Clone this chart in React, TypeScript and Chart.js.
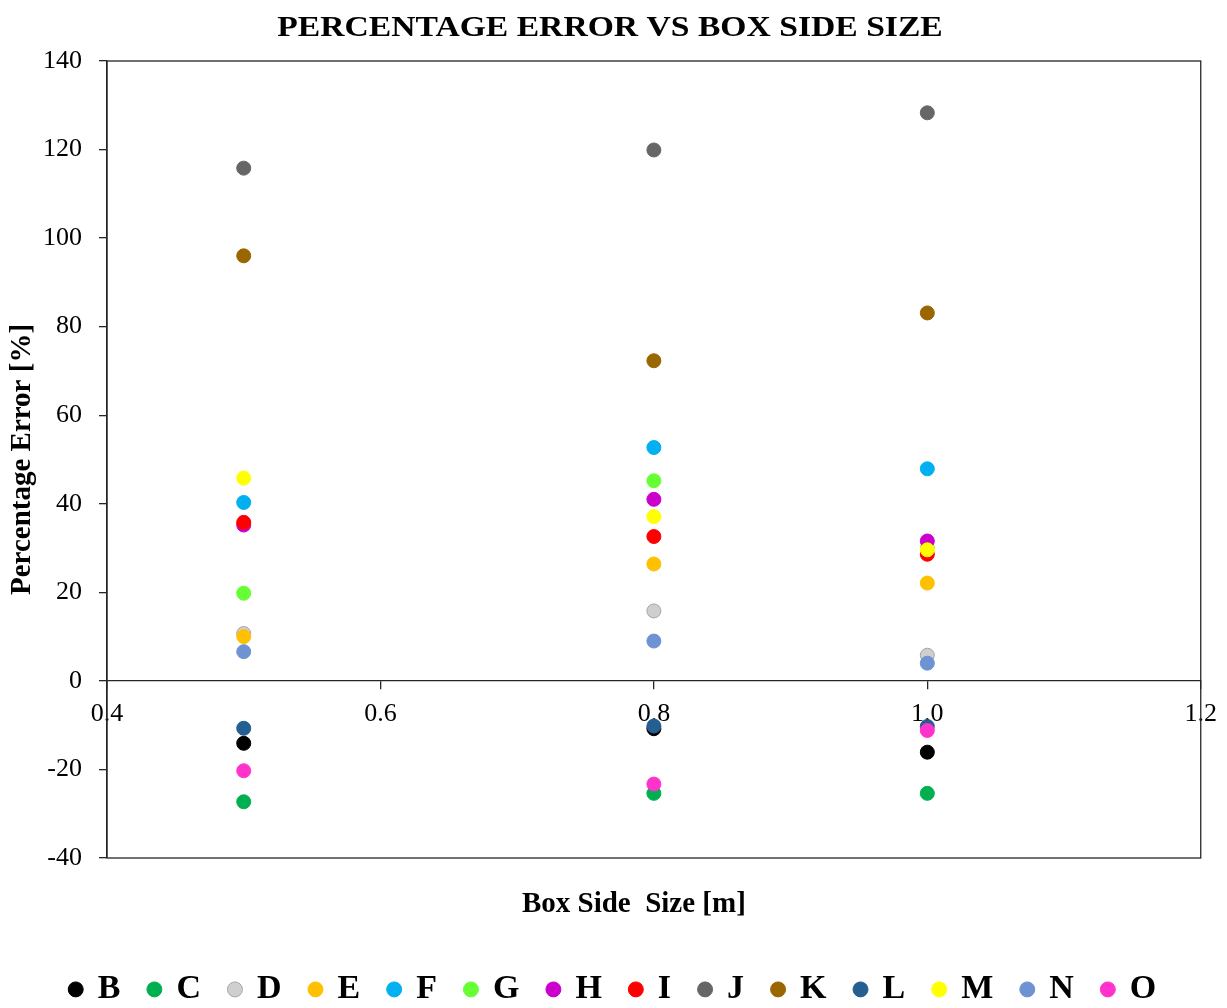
import { useEffect, useRef } from 'react';
import { Chart, registerables } from 'chart.js';

Chart.register(...registerables);

// Box side sizes [m] at which the error was measured
const boxSizes = [0.5, 0.8, 1.0];

// Percentage error [%] per case, one value per box size
const seriesB = [-14.1, -10.8, -16.1];
const seriesC = [-27.3, -25.4, -25.4];
const seriesD = [10.7, 15.8, 5.8];
const seriesE = [10.0, 26.4, 22.1];
const seriesF = [40.3, 52.7, 47.9];
const seriesG = [19.8, 45.2, 30.0];
const seriesH = [35.2, 41.0, 31.6];
const seriesI = [35.8, 32.6, 28.6];
const seriesJ = [115.8, 119.9, 128.3];
const seriesK = [96.0, 72.3, 83.1];
const seriesL = [-10.7, -10.2, -10.3];
const seriesM = [45.8, 37.1, 29.6];
const seriesN = [6.6, 9.0, 4.0];
const seriesO = [-20.3, -23.3, -11.2];

const seriesNames = ['B', 'C', 'D', 'E', 'F', 'G', 'H', 'I', 'J', 'K', 'L', 'M', 'N', 'O'];
const seriesValues = [
  seriesB, seriesC, seriesD, seriesE, seriesF, seriesG, seriesH,
  seriesI, seriesJ, seriesK, seriesL, seriesM, seriesN, seriesO,
];
const seriesFill = [
  '#000000', '#00B050', '#D0CECE', '#FFC000', '#00B0F0', '#66FF33', '#CC00CC',
  '#FF0000', '#666666', '#996600', '#255E91', '#FFFF00', '#6F92D2', '#FF33CC',
];
const seriesStroke = [
  '#000000', '#00B050', '#A5A5A5', '#FFC000', '#00B0F0', '#66FF33', '#CC00CC',
  '#FF0000', '#666666', '#996600', '#255E91', '#FFFF00', '#6F92D2', '#FF33CC',
];

// Axis ranges
const X_MIN = 0.4;
const X_MAX = 1.2;
const X_STEP = 0.2;
const Y_MIN = -40;
const Y_MAX = 140;
const Y_STEP = 20;

const CHART_TITLE = 'PERCENTAGE ERROR VS BOX SIDE SIZE';
const X_TITLE = 'Box Side  Size [m]';
const Y_TITLE = 'Percentage Error [%]';

const SERIF = '"Liberation Serif", "Times New Roman", serif';
const AXIS_COLOR = '#262626';

// Frame around the plotting area
const framePlugin = {
  id: 'plotFrame',
  beforeDatasetsDraw(chart: any) {
    const { ctx, chartArea } = chart;
    ctx.save();
    ctx.strokeStyle = AXIS_COLOR;
    ctx.lineWidth = 1.3;
    ctx.strokeRect(chartArea.left, chartArea.top, chartArea.right - chartArea.left, chartArea.bottom - chartArea.top);
    ctx.restore();
  },
};

// Main title (horizontally stretched) and the x-axis caption
const captionPlugin = {
  id: 'captions',
  afterDraw(chart: any) {
    const { ctx, chartArea } = chart;
    ctx.save();
    ctx.fillStyle = '#000';
    ctx.textAlign = 'center';
    ctx.textBaseline = 'middle';
    ctx.font = `bold 29.5px ${SERIF}`;
    ctx.translate(chart.width / 2 - 3.5, 28);
    ctx.scale(1.14, 1);
    ctx.fillText(CHART_TITLE, 0, 0);
    ctx.restore();

    ctx.save();
    ctx.fillStyle = '#000';
    ctx.textAlign = 'center';
    ctx.textBaseline = 'middle';
    ctx.font = `bold 29px ${SERIF}`;
    ctx.fillText(X_TITLE, (chartArea.left + chartArea.right) / 2 - 20, chartArea.bottom + 47);
    ctx.restore();
  },
};

export default function App() {
  const canvasRef = useRef<HTMLCanvasElement | null>(null);

  useEffect(() => {
    const canvas = canvasRef.current;
    if (!canvas) return;

    Chart.defaults.font.family = SERIF;
    Chart.defaults.color = '#000';

    const count = seriesNames.length;
    const datasets = seriesNames.map((name, i) => ({
      label: name,
      data: boxSizes.map((x, j) => ({ x, y: seriesValues[i][j] })),
      backgroundColor: seriesFill[i],
      borderColor: seriesStroke[i],
      borderWidth: 1,
      pointRadius: 7,
      pointHoverRadius: 7,
      pointStyle: 'circle',
      showLine: false,
      xAxisID: 'x',
      yAxisID: 'y',
      // later cases are painted above earlier ones
      order: count - i,
    }));

    const chart = new Chart(canvas, {
      type: 'scatter',
      data: { datasets },
      options: {
        responsive: false,
        animation: false,
        events: [],
        layout: { padding: { top: 61, left: 0, right: 0, bottom: -8.4 } },
        scales: {
          x: {
            type: 'linear',
            position: { y: 0 } as any,
            min: X_MIN,
            max: X_MAX,
            ticks: {
              stepSize: X_STEP,
              padding: 10,
              font: { size: 26 },
              color: '#000',
              callback: (v: any) => Number(v).toFixed(1),
            },
            grid: { drawOnChartArea: false, drawTicks: true, tickLength: 8, color: AXIS_COLOR, lineWidth: 1.3 },
            border: { display: true, color: AXIS_COLOR, width: 1.3 },
          },
          y: {
            type: 'linear',
            position: 'left',
            min: Y_MIN,
            max: Y_MAX,
            ticks: {
              stepSize: Y_STEP,
              padding: 17,
              font: { size: 26 },
              color: '#000',
            },
            grid: { drawOnChartArea: false, drawTicks: true, tickLength: 8, color: AXIS_COLOR, lineWidth: 1.3 },
            border: { display: true, color: AXIS_COLOR, width: 1.3 },
            title: {
              display: true,
              text: Y_TITLE,
              font: { size: 29, weight: 'bold' },
              color: '#000',
              padding: { top: 5.6, bottom: 0 },
            },
            afterFit: (scale: any) => { scale.width = 107; },
          },
          // spacer on the right of the plot
          yRight: {
            type: 'linear',
            position: 'right',
            display: true,
            ticks: { display: false },
            grid: { display: false },
            border: { display: false },
            afterFit: (scale: any) => { scale.width = 25; },
          },
          // spacer under the plot holding the x-axis caption
          xBottom: {
            type: 'linear',
            position: 'bottom',
            display: true,
            ticks: { display: false },
            grid: { display: false },
            border: { display: false },
            afterFit: (scale: any) => { scale.height = 85.4; },
          },
        },
        plugins: {
          title: { display: false },
          tooltip: { enabled: false },
          legend: {
            display: true,
            position: 'bottom',
            align: 'center',
            labels: {
              usePointStyle: true,
              pointStyle: 'circle',
              boxWidth: 10,
              boxHeight: 10.6,
              padding: 29,
              color: '#000',
              font: { size: 34, weight: 'bold' },
              sort: (a: any, b: any) => a.datasetIndex - b.datasetIndex,
            },
          },
        },
      },
      plugins: [framePlugin, captionPlugin],
    } as any);

    return () => chart.destroy();
  }, []);

  return (
    <div style={{ position: 'absolute', left: 0, top: 0, width: 1227, height: 1008, background: '#fff' }}>
      <canvas ref={canvasRef} width={1227} height={1008} />
    </div>
  );
}
